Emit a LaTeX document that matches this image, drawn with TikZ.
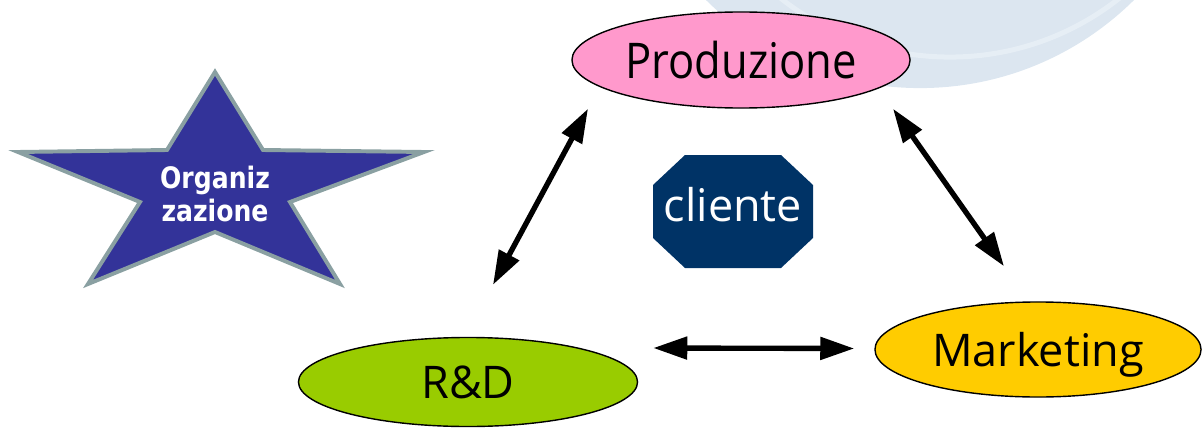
\documentclass[tikz,border=0pt]{standalone}
\usepackage{fontspec}
\usepackage{graphicx}
\usepackage{tikz}
\usetikzlibrary{positioning,shapes.geometric,arrows.meta}
\newfontfamily\labfont{Open Sans}
\newfontfamily\starfont{DejaVu Sans}
\definecolor{prodpink}{HTML}{FF99CC}
\definecolor{mktgold}{HTML}{FFCC00}
\definecolor{rdgreen}{HTML}{99CC00}
\definecolor{clinavy}{HTML}{003366}
\definecolor{starblue}{HTML}{333399}
\definecolor{stargrey}{HTML}{8AA0A2}
\definecolor{swoosh}{HTML}{DCE6F0}
\definecolor{swooshlight}{HTML}{E6EEF5}

\begin{document}
\begin{tikzpicture}[x=0.025cm,y=-0.025cm,
	ell/.style={ellipse,draw=black,line width=1pt,inner sep=0pt,text depth=0pt,font=\labfont\fontsize{32}{38}\selectfont},
	tri/.tip={Triangle[length=8.5mm,width=5.5mm]},
	dbl/.style={tri-tri,line width=3.8pt}]
			\useasboundingbox (0,0) rectangle (1202,427);
			\begin{scope}
				\clip (0,0) rectangle (1202,427);
				\fill[swoosh] (920,-216) circle [radius=7.6cm];
				\draw[swooshlight,line width=0.125cm] (950,-216) circle [radius=6.825cm];
			\end{scope}
			
			\filldraw[fill=starblue,draw=stargrey,line width=2.8pt] (215,72) -- (263,150) -- (424,152) -- (290,202) -- (340,284) -- (215,232) -- (88,284) -- (140,202) -- (18,152) -- (167,150) -- cycle;
			\node[text=white,align=center,font=\starfont\bfseries\fontsize{21}{23}\selectfont] (org) at (215,194) {\scalebox{0.85}[1]{Organiz}\\\scalebox{0.85}[1]{zazione}};
			
			\node[ell,fill=prodpink,minimum width=8.45cm,minimum height=2.4cm,font=\labfont\fontsize{35}{40}\selectfont] (prod) at (741,60) {\scalebox{0.885}[1]{Produzione}};
			\node[ell,fill=mktgold,minimum width=8.15cm,minimum height=2.375cm] (mkt) at (1038,349.5) {Marketing};
			\node[ell,fill=rdgreen,minimum width=8.475cm,minimum height=2.225cm] (rd) at (468,382) {R\&D};
			
			\fill[clinavy] (685,155) -- (781,155) -- (813,185) -- (813,238) -- (781,268) -- (685,268) -- (653,238) -- (653,185) -- cycle;
			\node[text=white,font=\labfont\fontsize{32}{38}\selectfont] (cli) at (733,205) {cliente};
			
			\coordinate[shift={(-153,0)}] (pl) at (prod.south);
			\coordinate[shift={(152,0)}] (pr) at (prod.south);
			\coordinate[shift={(25,-52)}] (rn) at (rd.north);
			\coordinate[shift={(15,-34)}] (re) at (rd.east);
			\coordinate[shift={(-34,-35)}] (mn) at (mkt.north);
			\coordinate[shift={(-20,-1)}] (mw) at (mkt.west);
			
			\draw[dbl] (pl)--(rn);
			\draw[dbl] (pr)--(mn);
			\draw[dbl] (re)--(mw);
		\end{tikzpicture}
\end{document}
